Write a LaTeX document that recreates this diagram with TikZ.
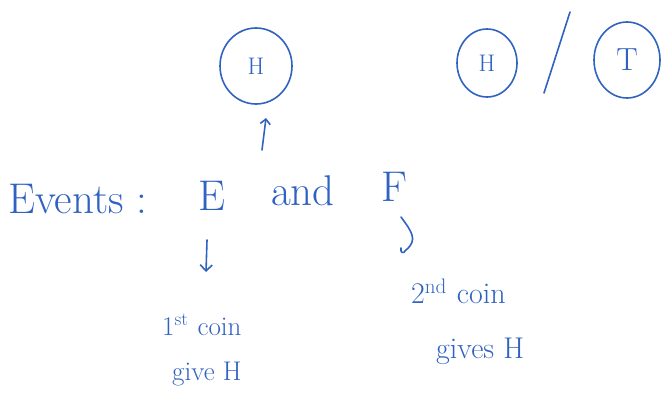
\documentclass[tikz,border=0pt]{standalone}
\usetikzlibrary{arrows.meta}
\definecolor{ink}{HTML}{3062C0}
\begin{document}
\begin{tikzpicture}[x=1pt,y=-1pt,
  every node/.style={text=ink},
  pen/.style={draw=ink, line width=1.6pt, line cap=round},
  big/.style={font=\fontsize{43}{46}\selectfont},
  capl/.style={font=\fontsize{27}{30}\selectfont},
  capr/.style={font=\fontsize{30}{33}\selectfont},
  small/.style={font=\fontsize{24}{26}\selectfont},
  tee/.style={font=\fontsize{32}{34}\selectfont}]
\useasboundingbox (0,0) rectangle (668,400);
% circles
\node[small] (h1) at (256,66) {H};
\draw[pen] (h1) ellipse [x radius=36, y radius=38];
\node[small] (h2) at (487,63) {H};
\draw[pen] (h2) ellipse [x radius=30, y radius=34];
\node[tee] (t) at (627,60) {T};
\draw[pen] (t) ellipse [x radius=33, y radius=38];
\coordinate (s1) at (570,12);
\coordinate (s2) at (544,93);
\draw[pen] (s1) -- (s2);
% events line
\node[big, anchor=base west, inner sep=0pt] (ev) at (8,213) {Events :};
\node[big, anchor=base] (e) at (212,210) {E};
\node[big, anchor=base] (and) at (303,205) {and};
\node[big, anchor=base] (f) at (394,201) {F};
% arrows
\coordinate (a1) at (262,150);
\coordinate (a2) at (266,118);
\draw[pen, -{Straight Barb[length=5pt]}] (a1) -- (a2);
\coordinate (b1) at (207,240);
\coordinate (b2) at (206,272);
\draw[pen, -{Straight Barb[length=6pt]}] (b1) -- (b2);
\coordinate (c1) at (401,217);
\coordinate (c2) at (406,250);
\draw[pen] (c1) .. controls (412,232) and (418,240) .. (c2) .. controls (403,255) and (400,252) .. (401,248);
% captions
\node[capl, anchor=base west, inner sep=0pt] (l1) at (162,335) {1\textsuperscript{st}\,\,coin};
\node[capl, anchor=base west, inner sep=0pt] (l2) at (172,380) {give H};
\node[capr, anchor=base west, inner sep=0pt] (r1) at (411,303) {2\textsuperscript{nd}\,\,coin};
\node[capr, anchor=base west, inner sep=0pt] (r2) at (436,358) {gives H};
\end{tikzpicture}
\end{document}
